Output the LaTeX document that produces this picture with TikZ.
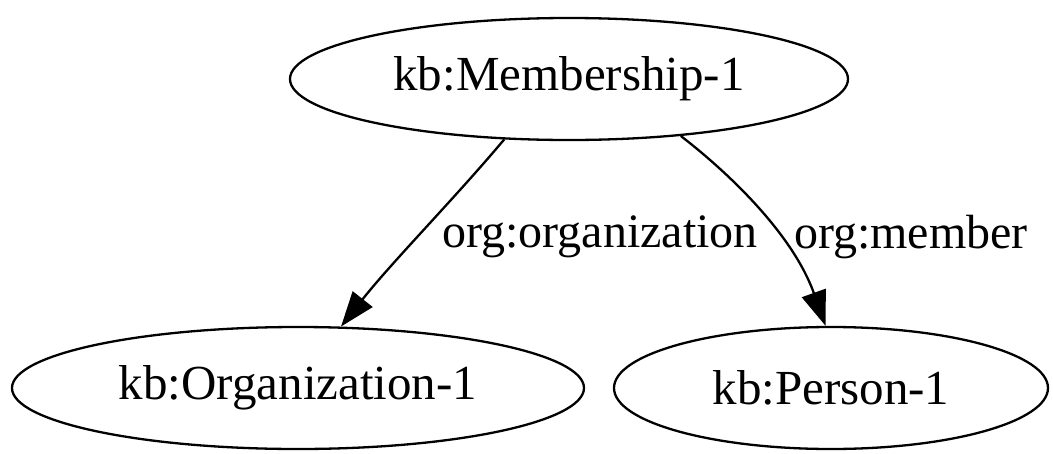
\documentclass[tikz,border=0pt]{standalone}
\usepackage{fontspec}
\setmainfont{Liberation Serif}
\usetikzlibrary{shapes.geometric,arrows.meta}
\begin{document}
\begin{tikzpicture}[x=1pt,y=-1pt,
  entity/.style={draw, ellipse, line width=2.3pt, inner sep=0pt,
    font=\fontsize{49}{59}\selectfont},
  rel/.style={draw, line width=2.3pt,
    -{Triangle[length=35pt,width=25pt]}},
  rellabel/.style={font=\fontsize{48}{58}\selectfont, inner sep=0pt}]
  \useasboundingbox (0,0) rectangle (1053,453);

  % resources
  \node[entity, minimum width=558pt, minimum height=122pt] (mem) at (569,79) {kb:Membership-1};
  \node[entity, minimum width=572pt, minimum height=122pt] (org) at (298,388) {kb:Organization-1};
  \node[entity, minimum width=434pt, minimum height=122pt] (per) at (831,388) {kb:Person-1};

  % properties
  \draw[rel] (mem.223) .. controls (455,198) and (392,262) .. (org.55);
  \draw[rel] (mem.333) .. controls (725,170) and (792,232) .. (per.95);

  \node[rellabel] (lo) at (600,237) {org:organization};
  \node[rellabel] (lm) at (911,237) {org:member};
\end{tikzpicture}
\end{document}
